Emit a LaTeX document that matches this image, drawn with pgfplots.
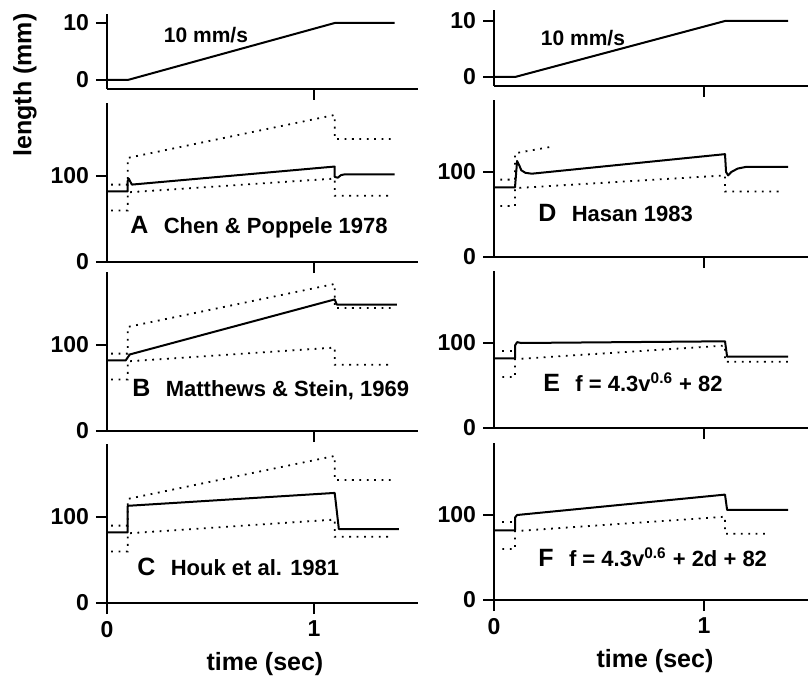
\documentclass[border=0pt]{standalone}
\usepackage{pgfplots}
\pgfplotsset{compat=1.18}
\usepackage{fontspec}
\setmainfont{Liberation Sans}

\pgfplotsset{
  base/.style={anchor=origin, xmin=0, xmax=1.5,
    axis x line=bottom, axis y line=left,
    axis line style={line width=1pt,-},
    tick align=outside,
    major tick length=5.5pt,
    every tick/.style={draw=black, line width=1.1pt},
    xtick={1}, xticklabels={}, clip=false,
    ticklabel style={font=\fontsize{11.5}{13}\selectfont\bfseries}},
  Lcol/.style={x=103.5pt},
  Rcol/.style={x=105pt},
  ramp/.style={y=2.85pt, ymin=-1.55, ymax=11.5, ytick={0,10}, yticklabels={0,10}},
  resp/.style={y=0.43pt, ymin=0, ymax=185, ytick={0,100}, yticklabels={0,100}},
  last/.style={xtick={0,1}, xticklabels={0,1}},
  sol/.style={black, line width=1pt, line join=round},
  dot/.style={black, line width=0.9pt, dash pattern=on 0.9pt off 2.8pt},
}
\newcommand{\lab}[2]{{\fontsize{12.5}{14}\selectfont #1}\hspace{0.7em}#2}

\begin{document}
\begin{tikzpicture}
\useasboundingbox (0,0) rectangle (404pt,338pt);

% left column
\begin{axis}[base, Lcol, ramp, at={(53.5pt,298pt)}]
  \addplot[sol] coordinates {(0,0) (0.1,0) (1.1,10) (1.39,10)};
\end{axis}
\begin{axis}[base, Lcol, resp, at={(53.5pt,207pt)}]
  \addplot[dot] coordinates {(0.02,90) (0.1,90) (0.1,121) (1.1,171) (1.1,143) (1.37,143)};
  \addplot[dot] coordinates {(0.02,60) (0.1,60) (0.1,81) (1.1,97) (1.1,77) (1.37,77)};
  \addplot[sol] coordinates {(0,82) (0.1,82) (0.1,94) (0.105,97) (0.12,90) (1.1,111) (1.1,99) (1.115,98) (1.13,101) (1.15,102) (1.39,102)};
\end{axis}
\begin{axis}[base, Lcol, resp, at={(53.5pt,122.5pt)}]
  \addplot[dot] coordinates {(0.02,90) (0.1,90) (0.1,121) (1.1,171) (1.1,143) (1.37,143)};
  \addplot[dot] coordinates {(0.02,60) (0.1,60) (0.1,81) (1.1,97) (1.1,77) (1.37,77)};
  \addplot[sol] coordinates {(0,82) (0.09,82) (0.11,89) (1.1,153) (1.11,147) (1.4,147)};
\end{axis}
\begin{axis}[base, Lcol, resp, last, at={(53.5pt,36.5pt)}]
  \addplot[dot] coordinates {(0.02,90) (0.1,90) (0.1,121) (1.1,171) (1.1,143) (1.37,143)};
  \addplot[dot] coordinates {(0.02,60) (0.1,60) (0.1,81) (1.1,97) (1.1,77) (1.37,77)};
  \addplot[sol] coordinates {(0,82) (0.1,82) (0.1,113) (1.1,128) (1.12,86) (1.41,86)};
\end{axis}

% right column
\begin{axis}[base, Rcol, ramp, y=2.8pt, ymin=-1.6, ymax=12, at={(247pt,299.5pt)}]
  \addplot[sol] coordinates {(0,0) (0.1,0) (1.1,10) (1.4,10)};
\end{axis}
\begin{axis}[base, Rcol, resp, y=0.425pt, at={(247pt,209.5pt)}]
  \addplot[dot] coordinates {(0.03,91) (0.1,91) (0.1,122) (0.28,130)};
  \addplot[dot] coordinates {(0.03,60) (0.1,60) (0.1,81) (1.1,96) (1.1,77) (1.38,77)};
  \addplot[sol] coordinates {(0,82) (0.1,82) (0.11,113) (0.12,108) (0.13,102) (0.15,99) (0.18,98) (1.1,121) (1.105,100) (1.115,96) (1.13,100) (1.16,104) (1.2,106) (1.4,106)};
\end{axis}
\begin{axis}[base, Rcol, resp, y=0.425pt, at={(247pt,124pt)}]
  \addplot[dot] coordinates {(0.04,91) (0.1,91)};
  \addplot[dot] coordinates {(0.04,60) (0.1,60) (0.1,81) (1.1,97) (1.1,78) (1.4,78)};
  \addplot[sol] coordinates {(0,82) (0.1,82) (0.1,97) (0.11,101) (0.13,100) (1.1,102) (1.11,84) (1.4,84)};
\end{axis}
\begin{axis}[base, Rcol, resp, last, y=0.425pt, at={(247pt,38pt)}]
  \addplot[dot] coordinates {(0.04,92) (0.1,92)};
  \addplot[dot] coordinates {(0.04,60) (0.1,60) (0.1,81) (1.1,98) (1.1,78) (1.31,78)};
  \addplot[sol] coordinates {(0,82) (0.1,82) (0.1,97) (0.11,100) (1.1,124) (1.11,106) (1.4,106)};
\end{axis}

% text
\begin{scope}[every node/.style={font=\fontsize{11}{13}\selectfont\bfseries, inner sep=0pt}]
  \node[rotate=90, font=\fontsize{12.5}{14}\selectfont\bfseries] at (12.5pt,295.5pt) {length (mm)};
  \node[font=\fontsize{12.5}{14}\selectfont\bfseries] at (132.5pt,6pt) {time (sec)};
  \node[font=\fontsize{12.5}{14}\selectfont\bfseries] at (327.5pt,7.5pt) {time (sec)};
  \node[font=\fontsize{10.5}{12}\selectfont\bfseries] at (103pt,320.5pt) {10 mm/s};
  \node[font=\fontsize{10.5}{12}\selectfont\bfseries] at (291.5pt,319pt) {10 mm/s};
  \node[anchor=west] at (65pt,224.5pt) {\lab{A}{Chen \& Poppele 1978}};
  \node[anchor=west] at (66pt,143pt) {\lab{B}{Matthews \& Stein, 1969}};
  \node[anchor=west] at (68.5pt,54.5pt) {\lab{C}{Houk et al. 1981}};
  \node[anchor=west] at (269pt,231.5pt) {\lab{D}{Hasan 1983}};
  \node[anchor=west] at (271.5pt,147pt) {\lab{E}{f = 4.3v\textsuperscript{0.6} + 82}};
  \node[anchor=west] at (269pt,59.5pt) {\lab{F}{f = 4.3v\textsuperscript{0.6} + 2d + 82}};
\end{scope}
\end{tikzpicture}
\end{document}
